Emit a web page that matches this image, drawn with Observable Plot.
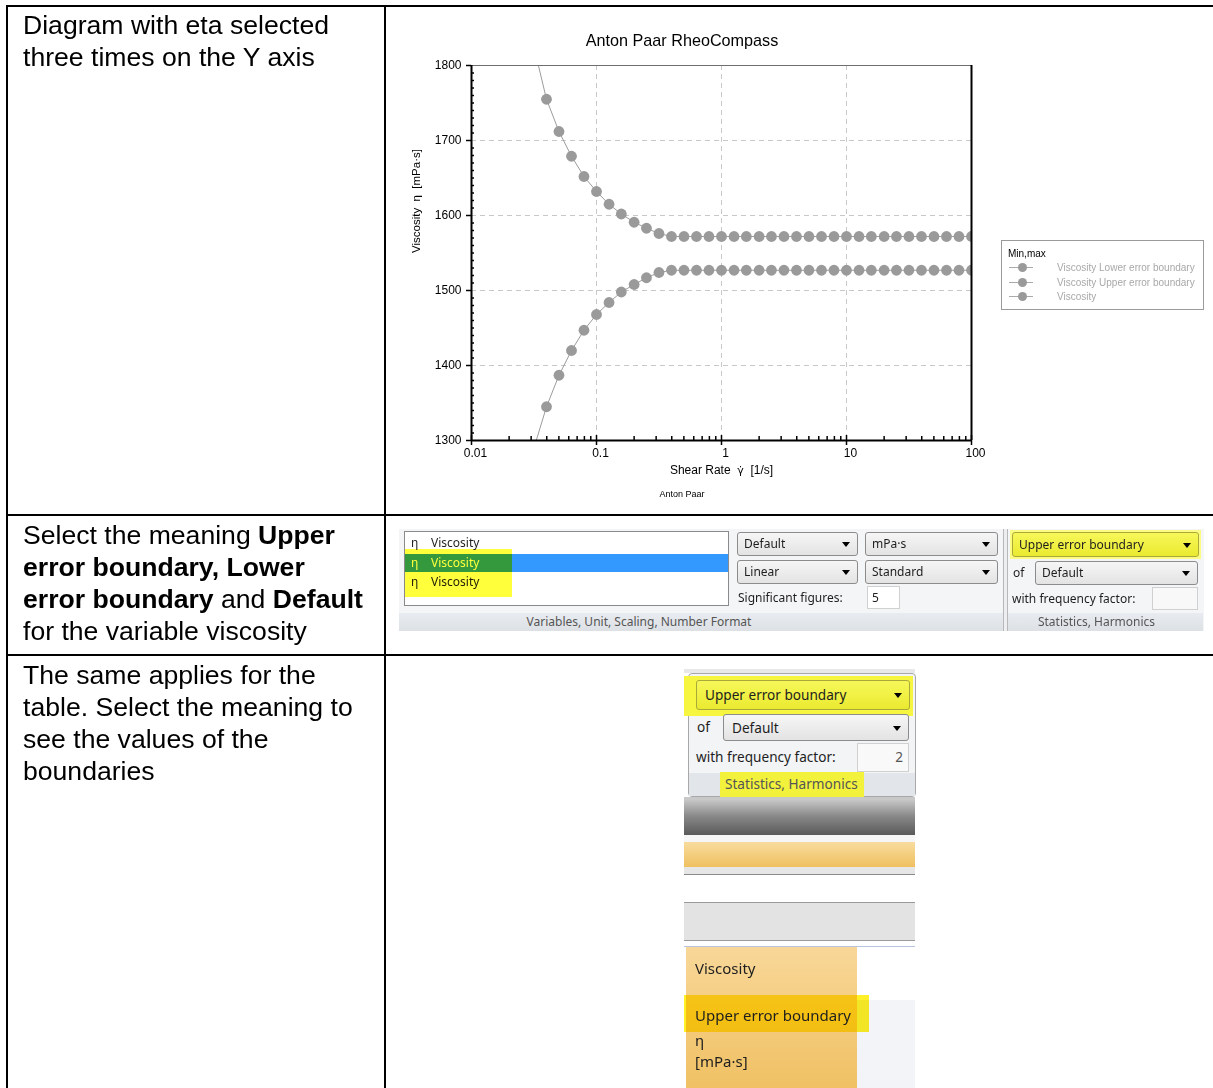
<!DOCTYPE html>
<html><head><meta charset="utf-8">
<script src="https://cdn.jsdelivr.net/npm/d3@7"></script>
<script src="https://cdn.jsdelivr.net/npm/@observablehq/plot@0.6"></script>
<style>
html,body{margin:0;padding:0;background:#fff;}
#page{position:relative;width:1213px;height:1088px;overflow:hidden;font-family:Arial,"Liberation Sans",sans-serif;color:#000;}
.a{position:absolute;box-sizing:border-box;}
.line{position:absolute;background:#000;}
.doc{position:absolute;font-size:26.6px;line-height:32px;white-space:nowrap;}
.ui{position:absolute;font-family:"Noto Sans","Open Sans",sans-serif;font-size:12px;color:#1e1e1e;white-space:nowrap;line-height:16px;}
.dd{position:absolute;box-sizing:border-box;border:1px solid #8c8c8c;border-radius:3px;background:linear-gradient(#f6f6f6,#e3e3e3);padding-left:6px;white-space:nowrap;font-family:"Noto Sans","Open Sans",sans-serif;font-size:12px;color:#1e1e1e;}
.dd::after{content:"";position:absolute;right:7px;top:50%;margin-top:-2px;border-left:4px solid transparent;border-right:4px solid transparent;border-top:5px solid #000;}
.yl{background:linear-gradient(#f7f75a,#eaea30);border-color:#a9a93a;}
.band{position:absolute;box-sizing:border-box;background:linear-gradient(#e8ebef,#dde1e6);text-align:center;font-family:"Noto Sans","Open Sans",sans-serif;font-size:12px;color:#555;line-height:17px;}
.leg{position:absolute;font-size:10px;color:#a8a8a8;white-space:nowrap;line-height:12px;}
</style></head>
<body>
<div id="page">
  <!-- document table lines -->
  <div class="line" style="left:6px;top:5px;width:1207px;height:2px"></div>
  <div class="line" style="left:6px;top:5px;width:2px;height:1083px"></div>
  <div class="line" style="left:384px;top:5px;width:2px;height:1083px"></div>
  <div class="line" style="left:6px;top:514px;width:1207px;height:2px"></div>
  <div class="line" style="left:6px;top:654px;width:1207px;height:2px"></div>

  <!-- left column text -->
  <div class="doc" style="left:23px;top:9px">Diagram with eta selected<br>three times on the Y axis</div>
  <div class="doc" style="left:23px;top:519px">Select the meaning <b>Upper</b><br><b>error boundary, Lower</b><br><b>error boundary</b> and <b>Default</b><br>for the variable viscosity</div>
  <div class="doc" style="left:23px;top:659px">The same applies for the<br>table. Select the meaning to<br>see the values of the<br>boundaries</div>

  <!-- chart -->
  <div class="a" style="left:562px;top:31px;width:240px;text-align:center;font-size:16.2px;line-height:19px;white-space:nowrap">Anton Paar RheoCompass</div>
  <div id="chart" class="a" style="left:386px;top:7px"></div>
  <div class="a" style="left:642px;top:489px;width:80px;text-align:center;font-size:9px;line-height:11px">Anton Paar</div>
  <div id="legend" class="a" style="left:1001px;top:240px;width:203px;height:70px;border:1px solid #9a9a9a;background:#fff"></div>

  <!-- row 2 UI -->
  <div class="a" style="left:399px;top:529px;width:805px;height:102px;background:#f4f5f7"></div>
  <div class="a" style="left:404px;top:531px;width:325px;height:75px;background:#fff;border:1px solid #8a8a8a"></div>
  <div class="a" style="left:405px;top:554px;width:323px;height:18px;background:#3399ff"></div>
  <div class="ui" style="left:411px;top:535px">η</div><div class="ui" style="left:431px;top:535px">Viscosity</div>
  <div class="ui" style="left:411px;top:555px;color:#fff">η</div><div class="ui" style="left:431px;top:555px;color:#fff">Viscosity</div>
  <div class="ui" style="left:411px;top:574px">η</div><div class="ui" style="left:431px;top:574px">Viscosity</div>
  <div class="a" style="left:405px;top:549px;width:107px;height:48px;background:#ffff3c;mix-blend-mode:multiply"></div>
  <div class="dd" style="left:737px;top:532px;width:121px;height:24px;line-height:22px">Default</div>
  <div class="dd" style="left:865px;top:532px;width:133px;height:24px;line-height:22px">mPa·s</div>
  <div class="dd" style="left:737px;top:560px;width:121px;height:24px;line-height:22px">Linear</div>
  <div class="dd" style="left:865px;top:560px;width:133px;height:24px;line-height:22px">Standard</div>
  <div class="ui" style="left:738px;top:590px">Significant figures:</div>
  <div class="a" style="left:867px;top:586px;width:33px;height:23px;background:#fff;border:1px solid #d0d0d0"></div>
  <div class="ui" style="left:872px;top:590px">5</div>
  <div class="band" style="left:399px;top:613px;width:604px;height:18px;padding-right:124px">Variables, Unit, Scaling, Number Format</div>
  <div class="a" style="left:1003px;top:529px;width:5px;height:102px;background:#eceef1;border-left:1px solid #b8b8b8;border-right:1px solid #b8b8b8"></div>
  <div class="a" style="left:1010px;top:530px;width:191px;height:29px;background:#ffff50;opacity:.7"></div>
  <div class="dd yl" style="left:1012px;top:532px;width:187px;height:25px;line-height:23px">Upper error boundary</div>
  <div class="ui" style="left:1013px;top:565px">of</div>
  <div class="dd" style="left:1035px;top:561px;width:163px;height:24px;line-height:22px">Default</div>
  <div class="ui" style="left:1012px;top:591px">with frequency factor:</div>
  <div class="a" style="left:1152px;top:587px;width:46px;height:23px;background:#f8f8f8;border:1px solid #d0d0d0"></div>
  <div class="band" style="left:1008px;top:613px;width:195px;height:18px;padding-right:18px">Statistics, Harmonics</div>

  <!-- row 3 UI -->
  <div class="a" style="left:684px;top:669px;width:231px;height:4px;background:#e8e8e8"></div>
  <div class="a" style="left:688px;top:673px;width:228px;height:124px;background:#f3f4f6;border:1px solid #a8a8a8;border-radius:4px"></div>
  <div class="a" style="left:689px;top:773px;width:226px;height:23px;background:#e2e5ea"></div>
  <div class="a" style="left:684px;top:676px;width:229px;height:40px;background:#f6f640"></div>
  <div class="dd yl" style="left:696px;top:680px;width:214px;height:30px;line-height:28px;font-size:13.6px;padding-left:8px">Upper error boundary</div>
  <div class="ui" style="left:697px;top:717px;font-size:13.6px;line-height:20px">of</div>
  <div class="dd" style="left:723px;top:714px;width:186px;height:27px;line-height:25px;font-size:13.6px;padding-left:8px">Default</div>
  <div class="ui" style="left:696px;top:747px;font-size:13.6px;line-height:20px">with frequency factor:</div>
  <div class="a" style="left:857px;top:743px;width:52px;height:29px;background:#f9f9f9;border:1px solid #d0d0d0"></div>
  <div class="ui" style="left:857px;top:747px;width:46px;text-align:right;font-size:13.6px;line-height:20px;color:#555">2</div>
  <div class="a" style="left:720px;top:772px;width:144px;height:25px;background:#f2f23c"></div>
  <div class="ui" style="left:725px;top:774px;font-size:13.6px;line-height:20px;color:#555">Statistics, Harmonics</div>
  <div class="a" style="left:684px;top:797px;width:231px;height:3px;background:#c8c8c8"></div>
  <div class="a" style="left:684px;top:800px;width:231px;height:35px;background:linear-gradient(#c6c6c6,#8a8a8a 45%,#5a5a5a)"></div>
  <div class="a" style="left:684px;top:835px;width:231px;height:7px;background:#f6f6f6"></div>
  <div class="a" style="left:684px;top:842px;width:231px;height:25px;background:linear-gradient(#f8dc9e,#efc060)"></div>
  <div class="a" style="left:684px;top:867px;width:231px;height:8px;background:#e6e6e6;border-bottom:1px solid #8a8a8a"></div>
  <div class="a" style="left:684px;top:902px;width:231px;height:39px;background:#e3e3e3;border-top:1px solid #9a9a9a;border-bottom:1px solid #9a9a9a"></div>
  <div class="a" style="left:684px;top:946px;width:231px;height:1px;background:#b8c4dc"></div>
  <div class="a" style="left:857px;top:1000px;width:58px;height:88px;background:#f2f4f7"></div>
  <div class="a" style="left:686px;top:947px;width:171px;height:141px;background:linear-gradient(#f8d798,#f0c164)"></div>
  <div class="a" style="left:684px;top:995px;width:185px;height:37px;background:#ffee00;mix-blend-mode:multiply;opacity:.85"></div>
  <div class="ui" style="left:695px;top:957px;font-size:15px;line-height:22px">Viscosity</div>
  <div class="ui" style="left:695px;top:1004px;font-size:15px;line-height:22px">Upper error boundary</div>
  <div class="ui" style="left:695px;top:1029px;font-size:15px;line-height:22px">η</div>
  <div class="ui" style="left:695px;top:1050px;font-size:15px;line-height:22px">[mPa·s]</div>
</div>
<script>
// ---- chart data ----
const shearRate = [0.0316,0.0398,0.0501,0.0631,0.0794,0.1,0.126,0.158,0.2,0.251,0.316,0.398,0.501,0.631,0.794,1,1.26,1.58,2,2.51,3.16,3.98,5.01,6.31,7.94,10,12.6,15.8,20,25.1,31.6,39.8,50.1,63.1,79.4,100];
const upperBoundary = [1825,1755,1712,1679,1652,1632,1615,1602,1591,1583,1576,1572,1572,1572,1572,1572,1572,1572,1572,1572,1572,1572,1572,1572,1572,1572,1572,1572,1572,1572,1572,1572,1572,1572,1572,1572];
const lowerBoundary = [1290,1345,1387,1420,1447,1468,1484,1498,1508,1517,1524,1527,1527,1527,1527,1527,1527,1527,1527,1527,1527,1527,1527,1527,1527,1527,1527,1527,1527,1527,1527,1527,1527,1527,1527,1527];
const seriesNames = ["Viscosity Lower error boundary","Viscosity Upper error boundary","Viscosity"];
const legendTitle = "Min,max";
const xMajorTicks = [0.01,0.1,1,10,100];
const xMinorTicks = [0.02,0.03,0.04,0.05,0.06,0.07,0.08,0.09,0.2,0.3,0.4,0.5,0.6,0.7,0.8,0.9,2,3,4,5,6,7,8,9,20,30,40,50,60,70,80,90];
const yMajorTicks = [1300,1400,1500,1600,1700,1800];
const yMinorTicks = d3.range(1310,1800,10).filter(v => v % 100 !== 0);
const xLabelParts = ["Shear Rate  ", "γ̇", "  [1/s]"];
const yLabel = "Viscosity  η  [mPa·s]";

const rows = [];
shearRate.forEach((x, i) => {
  rows.push({series: seriesNames[1], x, y: upperBoundary[i]});
  rows.push({series: seriesNames[0], x, y: lowerBoundary[i]});
});

const chart = Plot.plot({
  width: 600, height: 500,
  marginLeft: 85, marginRight: 15, marginTop: 58, marginBottom: 67,
  style: {fontFamily: "Arial, 'Liberation Sans', sans-serif", fontSize: "12px", color: "#000", background: "transparent", overflow: "visible"},
  x: {type: "log", domain: [0.01, 100]},
  y: {domain: [1300, 1800]},
  marks: [
    Plot.gridX([0.1, 1, 10], {stroke: "#c8c8c8", strokeOpacity: 1, strokeDasharray: "5,4"}),
    Plot.gridY([1400, 1500, 1600, 1700], {stroke: "#c8c8c8", strokeOpacity: 1, strokeDasharray: "5,4"}),
    Plot.line(rows, {x: "x", y: "y", z: "series", stroke: "#9c9c9c", strokeWidth: 1, clip: true}),
    Plot.dot(rows, {x: "x", y: "y", r: 5.4, fill: "#9a9a9a", stroke: "none", clip: true}),
    Plot.ruleY([1800], {stroke: "#6e6e6e", strokeWidth: 1}),
    Plot.ruleX([100], {stroke: "#000", strokeWidth: 2}),
    Plot.ruleX([0.01], {stroke: "#000", strokeWidth: 2}),
    Plot.ruleY([1300], {stroke: "#000", strokeWidth: 2}),
    Plot.axisY(yMajorTicks, {tickSize: 5, tickPadding: 5, label: null, tickFormat: d => String(d), strokeWidth: 1.5}),
    Plot.axisY(yMinorTicks, {tickSize: 3, dx: 3, label: null, tickFormat: () => "", strokeWidth: 1.5}),
    Plot.axisX(xMajorTicks, {tickSize: 5, label: null, tickFormat: () => "", strokeWidth: 1.5}),
    Plot.axisX(xMajorTicks, {tickSize: 5, dy: -5, label: null, tickFormat: () => "", strokeWidth: 1.5}),
    Plot.axisX(xMajorTicks, {tickSize: 0, tickPadding: 8, dx: 4, label: null, tickFormat: d => String(d)}),
    Plot.axisX(xMinorTicks, {tickSize: 4, dy: -4, label: null, tickFormat: () => "", strokeWidth: 1.5}),
    Plot.text([yLabel], {frameAnchor: "left", rotate: -90, dx: -55, text: d => d, fontSize: 11.5}),
    Plot.text([xLabelParts.join("")], {frameAnchor: "bottom", dy: 33, text: d => d, fontSize: 12})
  ]
});
document.getElementById("chart").appendChild(chart);

// style the axis titles: keep the spacing and draw the gamma-dot with a font that has the combining dot
d3.select(chart).selectAll("text").each(function() {
  const el = d3.select(this);
  const s = this.textContent;
  if (s === xLabelParts.join("")) {
    el.text(null).style("white-space", "pre");
    el.append("tspan").text(xLabelParts[0]);
    el.append("tspan").style("font-family", "'DejaVu Sans'").style("font-size", "11px").text(xLabelParts[1]);
    el.append("tspan").text(xLabelParts[2]);
  } else if (s === yLabel) {
    el.style("white-space", "pre");
  }
});

// ---- legend ----
const leg = document.getElementById("legend");
const t = document.createElement("div");
t.className = "leg"; t.style.left = "6px"; t.style.top = "7px"; t.style.color = "#000"; t.textContent = legendTitle;
leg.appendChild(t);
seriesNames.forEach((name, i) => {
  const top = 21 + i * 14.5;
  const ln = document.createElement("div");
  ln.style.cssText = `position:absolute;left:7px;top:${top + 5}px;width:24px;height:1px;background:#aaa`;
  const dt = document.createElement("div");
  dt.style.cssText = `position:absolute;left:16px;top:${top + 1}px;width:9px;height:9px;border-radius:50%;background:#9a9a9a`;
  const tx = document.createElement("div");
  tx.className = "leg"; tx.style.left = "55px"; tx.style.top = top + "px"; tx.textContent = name;
  leg.append(ln, dt, tx);
});
</script>
</body></html>
